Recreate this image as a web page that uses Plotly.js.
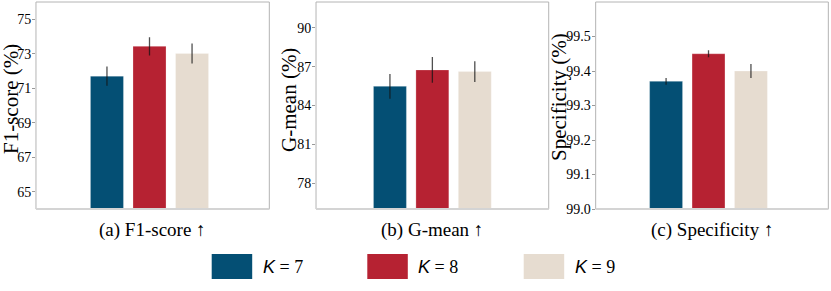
<!DOCTYPE html>
<html>
<head>
<meta charset="utf-8">
<script src="https://cdn.plot.ly/plotly-3.0.1.min.js"></script>
<style>html,body{margin:0;padding:0;background:#fff;}#chart{width:831px;height:291px;}</style>
</head>
<body>
<div id="chart"></div>
<script>
// ---- data ----
const groups = ['K = 7', 'K = 8', 'K = 9'];
const groupLabels = ['7', '8', '9'];
const metrics = ['F1-score', 'G-mean', 'Specificity'];
const panelLabels = ['(a) F1-score ↑', '(b) G-mean ↑', '(c) Specificity ↑'];
const yTitles = ['F1-score (%)', 'G-mean (%)', 'Specificity (%)'];
const f1Values = [71.70, 73.43, 73.02];
const f1Errors = [0.56, 0.53, 0.58];
const gmeanValues = [85.48, 86.75, 86.62];
const gmeanErrors = [0.95, 1.00, 0.80];
const specValues = [99.37, 99.45, 99.40];
const specErrors = [0.010, 0.010, 0.020];
const yTicks1 = [65, 67, 69, 71, 73, 75];
const yTicks2 = [78, 81, 84, 87, 90];
const yTicks3 = [99.0, 99.1, 99.2, 99.3, 99.4, 99.5];

// ---- style ----
const colors = ['#044f74', '#b62232', '#e6dcd0'];
const serif = 'Liberation Serif';
const values = [f1Values, gmeanValues, specValues];
const errors = [f1Errors, gmeanErrors, specErrors];
const yRanges = [[64, 76], [76, 92], [99.0, 99.6]];
const yTickSets = [yTicks1, yTicks2, yTicks3];
const xDomains = [[0.0433, 0.3241], [0.3803, 0.6603], [0.7168, 0.9968]];
const xShift = [0.0135, 0, 0.015];
const yDomain = [1 - 209 / 291, 1 - 2 / 291];

const data = [];
metrics.forEach((m, i) => {
  groups.forEach((g, k) => {
    data.push({
      type: 'bar',
      name: g,
      x: [m],
      y: [values[i][k]],
      xaxis: 'x' + (i + 1),
      yaxis: 'y' + (i + 1),
      showlegend: false,
      marker: {color: colors[k], line: {color: 'rgba(255,255,255,0.25)', width: 1}},
      error_y: {type: 'data', array: [errors[i][k]], visible: true, thickness: 1.3, width: 0, color: 'rgba(20,20,20,0.75)'}
    });
  });
});

const layout = {
  width: 831, height: 291,
  margin: {l: 0, r: 0, t: 0, b: 0},
  paper_bgcolor: '#fff', plot_bgcolor: '#fff',
  barmode: 'group', bargap: 0.453, bargroupgap: 0.224,
  font: {family: serif, color: '#000', size: 13},
  shapes: [], annotations: []
};

metrics.forEach((m, i) => {
  const xa = 'xaxis' + (i === 0 ? '' : i + 1);
  const ya = 'yaxis' + (i === 0 ? '' : i + 1);
  layout[xa] = {
    domain: xDomains[i], anchor: 'y' + (i + 1), type: 'category',
    range: [-0.5 + xShift[i], 0.5 + xShift[i]],
    showticklabels: false, ticks: '', showgrid: false, zeroline: false,
    showline: false
  };
  layout[ya] = {
    domain: yDomain, anchor: 'x' + (i + 1), range: yRanges[i],
    tickvals: yTickSets[i],
    ticktext: yTickSets[i].map(v => i === 2 ? v.toFixed(1) : String(v)),
    ticks: 'outside', ticklen: 3, tickcolor: '#999', tickwidth: 1,
    ticklabelstandoff: -2,
    showgrid: false, zeroline: false, showline: false,
    tickfont: {family: serif, size: 14, color: '#000'}
  };
  // frame
  layout.shapes.push({type: 'rect', xref: 'x' + (i + 1) + ' domain', yref: 'y' + (i + 1) + ' domain',
    x0: 0, x1: 1, y0: 0, y1: 1, line: {color: '#b4b4b4', width: 1}, layer: 'above'});
  layout.shapes.push({type: 'line', xref: 'x' + (i + 1) + ' domain', yref: 'y' + (i + 1) + ' domain',
    x0: 0, x1: 1, y0: 0, y1: 0, line: {color: '#d4d4d4', width: 2}, layer: 'above'});
  // bottom label
  layout.annotations.push({xref: 'paper', yref: 'paper', x: (xDomains[i][0] + xDomains[i][1]) / 2, y: 1 - 230 / 291,
    text: panelLabels[i], showarrow: false, xanchor: 'center', yanchor: 'middle',
    font: {family: serif, size: 19, color: '#000'}});
});

// y titles
const yTitleX = [11, 289, 559];
const yTitleY = [99, 100, 97];
yTitles.forEach((t, i) => {
  layout.annotations.push({xref: 'paper', yref: 'paper', x: yTitleX[i] / 831, y: 1 - yTitleY[i] / 291,
    text: t, textangle: -90, showarrow: false, xanchor: 'center', yanchor: 'middle',
    font: {family: serif, size: 21, color: '#000'}});
});

// legend (drawn manually for large swatches)
const legX = [211.7, 367.3, 523.7];
groups.forEach((g, k) => {
  layout.shapes.push({type: 'rect', xref: 'paper', yref: 'paper',
    x0: legX[k] / 831, x1: (legX[k] + 40.5) / 831, y0: 1 - 279 / 291, y1: 1 - 254 / 291,
    fillcolor: colors[k], line: {width: 0}});
  layout.annotations.push({xref: 'paper', yref: 'paper', x: (legX[k] + 49) / 831, y: 1 - 266.5 / 291,
    text: '<i style="font-family:Liberation Sans">K</i> = ' + groupLabels[k],
    showarrow: false, xanchor: 'left', yanchor: 'middle',
    font: {family: serif, size: 18, color: '#000'}});
});

Plotly.newPlot('chart', data, layout, {staticPlot: true, displayModeBar: false});
</script>
</body>
</html>
